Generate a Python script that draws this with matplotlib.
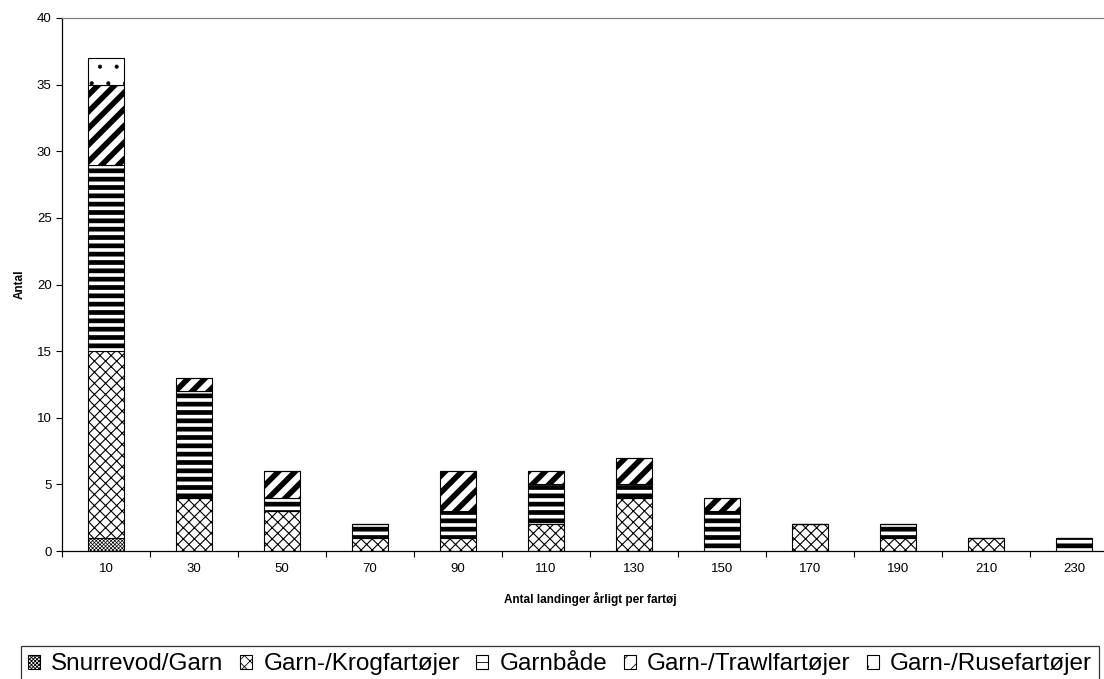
import numpy as np
import matplotlib as mpl
import matplotlib.pyplot as plt

plt.rcParams['font.family'] = ['Liberation Sans', 'DejaVu Sans']

categories = ['10', '30', '50', '70', '90', '110', '130', '150', '170', '190', '210', '230']
snurrevod = [1, 0, 0, 0, 0, 0, 0, 0, 0, 0, 0, 0]
krog = [14, 4, 3, 1, 1, 2, 4, 0, 2, 1, 1, 0]
garnbaade = [14, 8, 1, 1, 2, 3, 1, 3, 0, 1, 0, 1]
trawl = [6, 1, 2, 0, 3, 1, 2, 1, 0, 0, 0, 0]
ruse = [2, 0, 0, 0, 0, 0, 0, 0, 0, 0, 0, 0]

series = [
    ('Snurrevod/Garn', snurrevod, 'xxxxxxxxx', 0.5),
    ('Garn-/Krogfartøjer', krog, 'xxx', 0.8),
    ('Garnbåde', garnbaade, '--', 3.4),
    ('Garn-/Trawlfartøjer', trawl, '//', 4.0),
    ('Garn-/Rusefartøjer', ruse, '.', 0.5),
]

W, H = 1104, 679
fig = plt.figure(figsize=(W / 100, H / 100), dpi=100)
# plot area runs past the right edge of the picture, as in the original
ax = fig.add_axes([62 / W, 1 - 551 / H, (1118 - 62) / W, (551 - 18) / H])

x = np.arange(len(categories))
bottom = np.zeros(len(categories))
handles = []
for name, vals, hatch, hlw in series:
    mpl.rcParams['hatch.linewidth'] = hlw
    vals = np.array(vals, dtype=float)
    bars = ax.bar(x, vals, 0.41, bottom=bottom, color='white', edgecolor='black',
                  linewidth=0.8, hatch=hatch, label=name)
    handles.append(bars)
    bottom += vals

ax.set_xlim(-0.5, len(categories) - 0.5)
ax.set_ylim(0, 40)
ax.set_yticks(np.arange(0, 41, 5))
ax.set_xticks(np.arange(len(categories) + 1) - 0.5)
ax.set_xticklabels([])
ax.set_xticks(x, minor=True)
ax.set_xticklabels(categories, minor=True)
ax.tick_params(axis='x', which='minor', length=0, labelsize=9.5, pad=9)
ax.tick_params(axis='x', which='major', length=4, direction='out')
ax.tick_params(axis='y', length=4, direction='out', labelsize=9.5)

for s in ax.spines.values():
    s.set_linewidth(0.9)
ax.spines['top'].set_color('#808080')
ax.spines['right'].set_visible(False)

ax.set_ylabel('Antal', fontsize=8.5, fontweight='bold', labelpad=8)
ax.set_xlabel('Antal landinger årligt per fartøj', fontsize=8.5, fontweight='bold', labelpad=12)

mpl.rcParams['hatch.linewidth'] = 0.6
leg = fig.legend(handles=handles, loc='upper left',
                 bbox_to_anchor=(21 / W, 0, (1099 - 21) / W, 1 - 646 / H),
                 mode='expand', ncol=5, fontsize=17.5, frameon=True, fancybox=False,
                 handlelength=0.5, handleheight=0.5, handletextpad=0.45,
                 columnspacing=0.4, borderpad=0.3, borderaxespad=0)
leg.get_frame().set_edgecolor('black')
leg.get_frame().set_linewidth(0.9)

fig.savefig('out.png', dpi=100)
